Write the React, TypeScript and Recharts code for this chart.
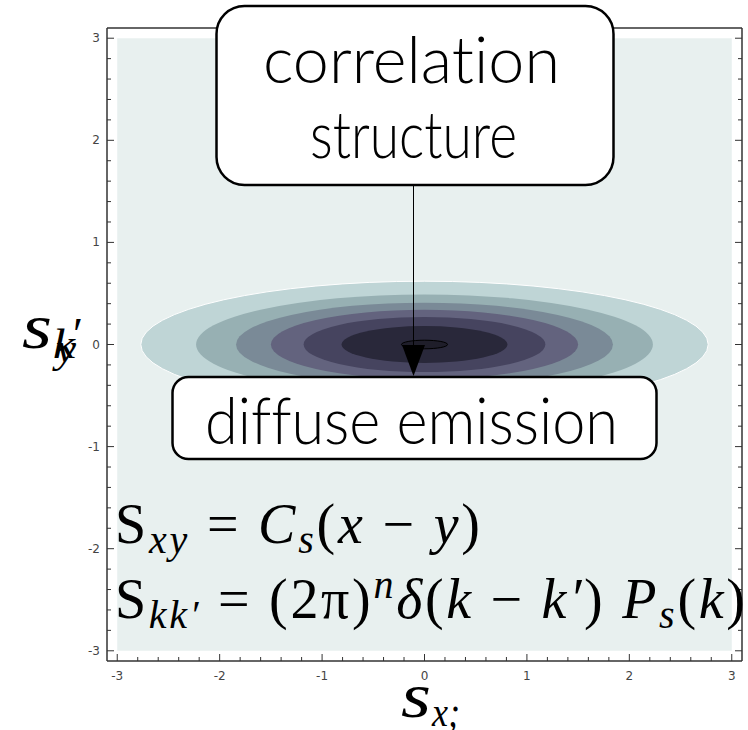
import React from 'react';
import { ScatterChart, XAxis, YAxis, ReferenceArea } from 'recharts';

// axis range and ticks
const DOMAIN: [number, number] = [-3.1, 3.1];
const MAJOR_TICKS = [-3, -2, -1, 0, 1, 2, 3];
const MINOR_PER_MAJOR = 5;

// nested contour levels: half widths / half heights in data units
const LEVEL_RX = [2.77, 2.23, 1.84, 1.5, 1.18, 0.81];
const LEVEL_RY = [0.62, 0.49, 0.41, 0.34, 0.27, 0.18];
const LEVEL_COLORS = ['#bfd5d6', '#97b0b3', '#7a8a97', '#63637e', '#46445f', '#29283a'];

// peak marker
const PEAK_RX = 0.225;
const PEAK_RY = 0.042;

const BG_COLOR = '#e8f0ef';

const ALL_TICKS: number[] = [];
MAJOR_TICKS.forEach((t, i) => {
  ALL_TICKS.push(t);
  if (i < MAJOR_TICKS.length - 1) {
    for (let k = 1; k < MINOR_PER_MAJOR; k++) {
      ALL_TICKS.push(Math.round((t + k / MINOR_PER_MAJOR) * 10) / 10);
    }
  }
});

const isMajor = (v: number) => Math.abs(v - Math.round(v)) < 1e-6;

const makeTick = (side: 'bottom' | 'top' | 'left' | 'right') => (props: any) => {
  const { x, y, payload } = props;
  const v = payload.value;
  const len = isMajor(v) ? 7 : 4;
  let line;
  if (side === 'bottom') line = <line x1={x} y1={y} x2={x} y2={y - len} stroke="#333" />;
  else if (side === 'top') line = <line x1={x} y1={y} x2={x} y2={y + len} stroke="#333" />;
  else if (side === 'left') line = <line x1={x} y1={y} x2={x + len} y2={y} stroke="#333" />;
  else line = <line x1={x} y1={y} x2={x - len} y2={y} stroke="#333" />;
  return (
    <g>
      {line}
      {isMajor(v) && side === 'bottom' && (
        <text x={x} y={y + 19} textAnchor="middle" fontSize={12} fill="#444" fontFamily="DejaVu Sans">
          {v}
        </text>
      )}
      {isMajor(v) && side === 'left' && (
        <text x={x - 7} y={y + 4} textAnchor="end" fontSize={12} fill="#444" fontFamily="DejaVu Sans">
          {v}
        </text>
      )}
    </g>
  );
};

const EllipseShape = (props: any) => {
  const { x, y, width, height, fill, stroke, strokeWidth } = props;
  return (
    <ellipse
      cx={x + width / 2}
      cy={y + height / 2}
      rx={Math.abs(width) / 2}
      ry={Math.abs(height) / 2}
      fill={fill}
      stroke={stroke}
      strokeWidth={strokeWidth}
    />
  );
};

const axisLine = { stroke: '#333', strokeWidth: 1.5 };
const boxFont = { fontFamily: 'Lato', fontWeight: 300, fontSize: 66, fontVariantLigatures: 'none' } as const;

const Overlay = () => (
  <svg width={748} height={730} style={{ position: 'absolute', left: 0, top: 0, pointerEvents: 'none' }}>
    {/* arrow */}
    <line x1={413.5} y1={186} x2={413.5} y2={350} stroke="#000" strokeWidth={1} />
    <polygon points="402,345 425,345 413.5,376" fill="#000" />

    {/* correlation structure box */}
    <rect x={216.5} y={6} width={397} height={179} rx={28} fill="#fff" stroke="#000" strokeWidth={2.5} />
    <text x={411.5} y={83} textAnchor="middle" style={boxFont} textLength={297} lengthAdjust="spacingAndGlyphs">
      {'correla\u200Ction'}
    </text>
    <text x={413.5} y={158} textAnchor="middle" style={boxFont} textLength={207} lengthAdjust="spacingAndGlyphs">
      structure
    </text>

    {/* diffuse emission box */}
    <rect x={172.5} y={377} width={484} height={82} rx={16} fill="#fff" stroke="#000" strokeWidth={2.5} />
    <text x={411.5} y={444} textAnchor="middle" style={boxFont} textLength={413} lengthAdjust="spacingAndGlyphs">
      {'dif\u200Cfuse emission'}
    </text>

    {/* formulas */}
    <text x={115} y={543} fontFamily="Liberation Serif" fontSize={56} fill="#000" textLength={365} lengthAdjust="spacing">
      S<tspan fontStyle="italic" fontSize={40} dy={10}>xy</tspan>
      <tspan dy={-10}> = </tspan>
      <tspan fontStyle="italic">C</tspan>
      <tspan fontStyle="italic" fontSize={40} dy={10}>s</tspan>
      <tspan dy={-10}>(</tspan>
      <tspan fontStyle="italic">x</tspan>
      <tspan> − </tspan>
      <tspan fontStyle="italic">y</tspan>
      <tspan>)</tspan>
    </text>
    <text x={115} y={618} fontFamily="Liberation Serif" fontSize={56} fill="#000" textLength={630} lengthAdjust="spacing">
      S<tspan fontStyle="italic" fontSize={40} dy={10}>kk′</tspan>
      <tspan dy={-10}> = (2π)</tspan>
      <tspan fontStyle="italic" fontSize={40} dy={-20}>n</tspan>
      <tspan fontStyle="italic" dy={20}>δ</tspan>
      <tspan>(</tspan>
      <tspan fontStyle="italic">k</tspan>
      <tspan> − </tspan>
      <tspan fontStyle="italic">k′</tspan>
      <tspan>) </tspan>
      <tspan fontStyle="italic">P</tspan>
      <tspan fontStyle="italic" fontSize={40} dy={10}>s</tspan>
      <tspan dy={-10}>(</tspan>
      <tspan fontStyle="italic">k</tspan>
      <tspan>)</tspan>
    </text>

    {/* axis titles */}
    <text x={22} y={348} fontFamily="Liberation Serif" fontStyle="italic" fontSize={64} fill="#000" textLength={30} lengthAdjust="spacingAndGlyphs">s</text>
    <text x={53} y={358} fontFamily="Liberation Serif" fontStyle="italic" fontSize={42} fill="#000" textLength={22} lengthAdjust="spacingAndGlyphs">k</text>
    <text x={56} y={362} fontFamily="Liberation Serif" fontStyle="italic" fontSize={42} fill="#000" textLength={20} lengthAdjust="spacingAndGlyphs">y</text>
    <text x={73} y={350} fontFamily="Liberation Serif" fontSize={46} fill="#000">′</text>

    <text x={401} y={717} fontFamily="Liberation Serif" fontStyle="italic" fontSize={64} fill="#000" textLength={30} lengthAdjust="spacingAndGlyphs">s</text>
    <text x={432} y={726} fontFamily="Liberation Serif" fontStyle="italic" fontSize={42} fill="#000" textLength={28} lengthAdjust="spacingAndGlyphs">x;</text>
  </svg>
);

export default function App() {
  return (
    <div style={{ position: 'absolute', left: 0, top: 0, width: 748, height: 730, background: '#fff' }}>
      <ScatterChart width={748} height={730} margin={{ top: 27, right: 5, bottom: 68, left: 106 }}>
        <XAxis
          type="number"
          dataKey="x"
          domain={DOMAIN}
          ticks={ALL_TICKS}
          interval={0}
          height={1}
          tickSize={0}
          tickMargin={0}
          axisLine={axisLine}
          tickLine={false}
          tick={makeTick('bottom')}
          allowDataOverflow
        />
        <XAxis
          xAxisId="top"
          orientation="top"
          type="number"
          domain={DOMAIN}
          ticks={ALL_TICKS}
          interval={0}
          height={1}
          tickSize={0}
          tickMargin={0}
          axisLine={axisLine}
          tickLine={false}
          tick={makeTick('top')}
          allowDataOverflow
        />
        <YAxis
          type="number"
          dataKey="y"
          domain={DOMAIN}
          ticks={ALL_TICKS}
          interval={0}
          width={1}
          tickSize={0}
          tickMargin={0}
          axisLine={axisLine}
          tickLine={false}
          tick={makeTick('left')}
          allowDataOverflow
        />
        <YAxis
          yAxisId="right"
          orientation="right"
          type="number"
          domain={DOMAIN}
          ticks={ALL_TICKS}
          interval={0}
          width={1}
          tickSize={0}
          tickMargin={0}
          axisLine={axisLine}
          tickLine={false}
          tick={makeTick('right')}
          allowDataOverflow
        />
        <ReferenceArea x1={-3} x2={3} y1={-3} y2={3} fill={BG_COLOR} fillOpacity={1} stroke="none" />
        {LEVEL_RX.map((rx, i) => (
          <ReferenceArea
            key={i}
            x1={-rx}
            x2={rx}
            y1={-LEVEL_RY[i]}
            y2={LEVEL_RY[i]}
            fill={LEVEL_COLORS[i]}
            fillOpacity={1}
            stroke={i === 0 ? '#ffffff' : 'none'}
            strokeWidth={1}
            shape={<EllipseShape />}
          />
        ))}
        <ReferenceArea
          x1={-PEAK_RX}
          x2={PEAK_RX}
          y1={-PEAK_RY}
          y2={PEAK_RY}
          fill="#1f1e2a"
          fillOpacity={1}
          stroke="#000"
          strokeWidth={1}
          shape={<EllipseShape />}
        />
      </ScatterChart>
      <Overlay />
    </div>
  );
}
